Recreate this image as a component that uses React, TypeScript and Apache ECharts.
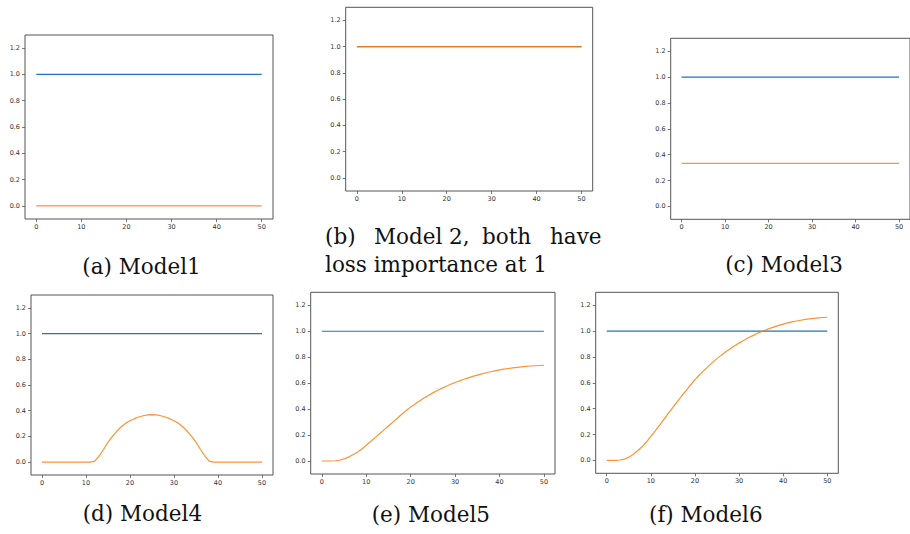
import React, { useEffect, useRef } from "react";
import * as echarts from "echarts";

const xs = [0,1,2,3,4,5,6,7,8,9,10,11,12,13,14,15,16,17,18,19,20,21,22,23,24,25,26,27,28,29,30,31,32,33,34,35,36,37,38,39,40,41,42,43,44,45,46,47,48,49,50];
const xTicks = [0, 10, 20, 30, 40, 50];
const yTicks = [0, 0.2, 0.4, 0.6, 0.8, 1.0, 1.2];

const ones = [1,1,1,1,1,1,1,1,1,1,1,1,1,1,1,1,1,1,1,1,1,1,1,1,1,1,1,1,1,1,1,1,1,1,1,1,1,1,1,1,1,1,1,1,1,1,1,1,1,1,1];
const zeros = [0,0,0,0,0,0,0,0,0,0,0,0,0,0,0,0,0,0,0,0,0,0,0,0,0,0,0,0,0,0,0,0,0,0,0,0,0,0,0,0,0,0,0,0,0,0,0,0,0,0,0];

const model1Blue = ones;
const model1Orange = zeros;
const model2Blue = ones;
const model2Orange = ones;
const model3Blue = ones;
const model3Orange = [0.333,0.333,0.333,0.333,0.333,0.333,0.333,0.333,0.333,0.333,0.333,0.333,0.333,0.333,0.333,0.333,0.333,0.333,0.333,0.333,0.333,0.333,0.333,0.333,0.333,0.333,0.333,0.333,0.333,0.333,0.333,0.333,0.333,0.333,0.333,0.333,0.333,0.333,0.333,0.333,0.333,0.333,0.333,0.333,0.333,0.333,0.333,0.333,0.333,0.333,0.333];
const model4Blue = ones;
const model4Orange = [0,0,0,0,0,0,0,0,0,0,0,0,0.008,0.048,0.1,0.155,0.2,0.24,0.275,0.302,0.322,0.338,0.351,0.361,0.367,0.37,0.367,0.361,0.351,0.338,0.322,0.302,0.275,0.24,0.2,0.155,0.1,0.048,0.008,0,0,0,0,0,0,0,0,0,0,0,0];
const model5Blue = ones;
const model5Orange = [0,0,0,0.002,0.006,0.016,0.03,0.048,0.068,0.092,0.122,0.15,0.18,0.21,0.24,0.27,0.3,0.33,0.36,0.39,0.417,0.44,0.463,0.485,0.505,0.525,0.543,0.56,0.576,0.591,0.605,0.618,0.63,0.641,0.652,0.662,0.671,0.68,0.688,0.695,0.702,0.708,0.713,0.718,0.722,0.726,0.729,0.732,0.734,0.736,0.738];
const model6Blue = ones;
const model6Orange = [0,0,0,0.003,0.009,0.025,0.046,0.074,0.105,0.142,0.185,0.228,0.273,0.319,0.365,0.41,0.455,0.498,0.54,0.583,0.625,0.66,0.694,0.727,0.758,0.787,0.814,0.84,0.864,0.886,0.907,0.927,0.946,0.963,0.98,0.995,1.008,1.021,1.033,1.044,1.054,1.063,1.071,1.078,1.084,1.09,1.095,1.099,1.102,1.105,1.107];

const panels = [
  { blue: model1Blue, orange: model1Orange, left: 25, top: 35, width: 248, height: 184 },
  { blue: model2Blue, orange: model2Orange, left: 345.7, top: 7.3, width: 247, height: 183.7 },
  { blue: model3Blue, orange: model3Orange, left: 670.7, top: 38.3, width: 243.8, height: 181 },
  { blue: model4Blue, orange: model4Orange, left: 31, top: 295, width: 242, height: 180 },
  { blue: model5Blue, orange: model5Orange, left: 310.7, top: 292.3, width: 244.3, height: 181.7 },
  { blue: model6Blue, orange: model6Orange, left: 595.7, top: 292.3, width: 242.6, height: 181 },
];

const captions = [
  { text: "(a) Model1", x: 141.5, y: 266 },
  { text: "loss importance at 1", x: 325, y: 264, align: "left" },
  { text: "(c) Model3", x: 784, y: 264 },
  { text: "(d) Model4", x: 142.4, y: 513 },
  { text: "(e) Model5", x: 430.8, y: 514 },
  { text: "(f) Model6", x: 705.8, y: 514 },
];
const captionBLine1 = [
  { text: "(b)", x: 325 },
  { text: "Model", x: 374 },
  { text: "2,", x: 449 },
  { text: "both", x: 482 },
  { text: "have", x: 550 },
];

const BLUE = "#1f77b4";
const ORANGE = "#ff7f0e";
const SERIF = "'DejaVu Serif', serif";

export default function App() {
  const ref = useRef<HTMLDivElement>(null);
  useEffect(() => {
    document.body.style.margin = "0";
    const chart = echarts.init(ref.current!, null, { renderer: "svg" });
    const grid: any[] = [];
    const xAxis: any[] = [];
    const yAxis: any[] = [];
    const series: any[] = [];
    panels.forEach((p, i) => {
      grid.push({
        left: p.left, top: p.top, width: p.width, height: p.height,
        show: true, borderColor: "#555", borderWidth: 1, backgroundColor: "#fff",
        containLabel: false,
      });
      xAxis.push({
        type: "value", gridIndex: i, min: -2.5, max: 52.5, position: "bottom",
        axisLine: { show: false, onZero: false },
        splitLine: { show: false },
        axisTick: { show: true, inside: false, length: 3, lineStyle: { color: "#555", width: 0.8 }, customValues: xTicks },
        axisLabel: { show: true, fontSize: 6.5, color: "#333", margin: 4, fontFamily: "'DejaVu Sans', sans-serif", customValues: xTicks, formatter: (v: number) => String(v) },
      });
      yAxis.push({
        type: "value", gridIndex: i, min: -0.1, max: 1.3, position: "left",
        axisLine: { show: false, onZero: false },
        splitLine: { show: false },
        axisTick: { show: true, inside: false, length: 3, lineStyle: { color: "#555", width: 0.8 }, customValues: yTicks },
        axisLabel: { show: true, fontSize: 6.5, color: "#333", margin: 5, fontFamily: "'DejaVu Sans', sans-serif", customValues: yTicks, formatter: (v: number) => v.toFixed(1) },
      });
      series.push({
        type: "line", xAxisIndex: i, yAxisIndex: i, showSymbol: false, symbol: "none",
        data: xs.map((x, k) => [x, p.blue[k]]),
        lineStyle: { color: BLUE, width: 1.2 }, silent: true,
      });
      series.push({
        type: "line", xAxisIndex: i, yAxisIndex: i, showSymbol: false, symbol: "none",
        data: xs.map((x, k) => [x, p.orange[k]]),
        lineStyle: { color: ORANGE, width: 1.2, opacity: 0.85 }, silent: true,
      });
    });
    const graphic: any[] = [];
    captions.forEach((c) => {
      graphic.push({
        type: "text", x: c.x, y: c.y,
        style: { text: c.text, font: `21.5px ${SERIF}`, fill: "#111", textAlign: c.align || "center", textVerticalAlign: "middle" },
      });
    });
    captionBLine1.forEach((c) => {
      graphic.push({
        type: "text", x: c.x, y: 236,
        style: { text: c.text, font: `21.5px ${SERIF}`, fill: "#111", textAlign: "left", textVerticalAlign: "middle" },
      });
    });
    chart.setOption({
      animation: false,
      backgroundColor: "#fff",
      grid, xAxis, yAxis, series, graphic,
    });
    return () => chart.dispose();
  }, []);
  return <div ref={ref} style={{ width: 910, height: 534, position: "absolute", left: 0, top: 0 }} />;
}
